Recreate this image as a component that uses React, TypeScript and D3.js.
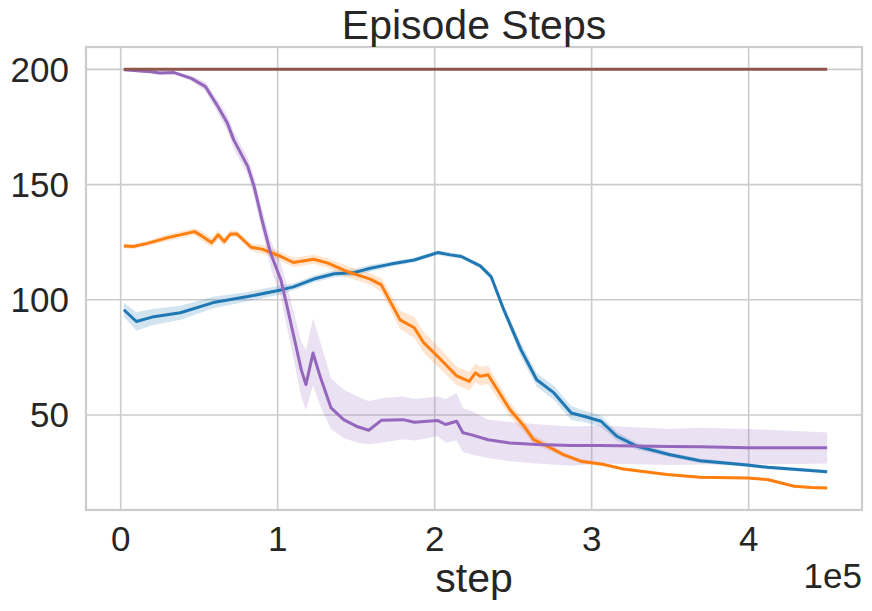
import * as d3 from 'd3'

// x values are env steps, y values are mean episode steps with a confidence band
const blueSteps = [2000, 10000, 20000, 38000, 59000, 81000, 102000, 110000, 123000, 136000, 148000, 159000, 172000, 187000, 202000, 210000, 217000, 229000, 236000, 244000, 255000, 265000, 276000, 287000, 295000, 306000, 316000, 329000, 350000, 369000, 399000, 412000, 450000]
const blueMean = [95.7, 90.6, 92.5, 94.4, 98.8, 101.4, 104.3, 105.6, 109, 111.3, 111.7, 113.7, 115.5, 117.3, 120.5, 119.5, 118.8, 114.7, 110, 95.7, 78.3, 65.3, 59.6, 50.9, 49.5, 47.3, 40.8, 36.4, 32.8, 30.2, 28.3, 27.3, 25.4]
const blueSpread = [3, 4, 3.5, 3, 2.5, 2, 2, 1.5, 1.5, 1.5, 1.5, 1.5, 1, 1, 1, 1, 1, 1, 1.5, 2, 3, 3, 3, 3, 2.5, 2.5, 2, 1.5, 1, 1, 0.8, 0.8, 0.8]

const orangeSteps = [2000, 8000, 17000, 30000, 47000, 51000, 58000, 62000, 66000, 70000, 74000, 83000, 90000, 102000, 110000, 123000, 132000, 144000, 159000, 166000, 178000, 187000, 193000, 204000, 214000, 222000, 226000, 229000, 234000, 240000, 248000, 257000, 263000, 274000, 282000, 293000, 308000, 320000, 348000, 369000, 399000, 412000, 429000, 440000, 450000]
const orangeMean = [123.4, 123.1, 124.5, 127, 129.6, 128, 124.8, 128.2, 125.3, 128.6, 128.6, 122.8, 122, 118.8, 116.2, 117.6, 115.9, 112.3, 109, 106.5, 91.3, 87.9, 81.4, 74, 67, 64.6, 68.3, 66.8, 67.5, 61, 52.3, 45.1, 39.3, 35.7, 32.8, 30, 28.5, 26.6, 24.2, 23, 22.7, 22, 19.1, 18.6, 18.4]
const orangeSpread = [1, 1, 1, 1.5, 1.5, 2, 2, 2, 2, 1.5, 1.5, 1.5, 2, 2, 2, 2, 2, 2.5, 2.5, 3, 4, 4.5, 4.5, 4.5, 4, 4, 4, 4, 4, 3.5, 3, 2.5, 2, 1.5, 1, 1, 0.8, 0.6, 0.5, 0.5, 0.5, 0.5, 0.5, 0.5, 0.5]

const purpleSteps = [2000, 19000, 25000, 34000, 45000, 54000, 62000, 68000, 72000, 81000, 85000, 90000, 95500, 102000, 106000, 115000, 118000, 122500, 127000, 134000, 142000, 151000, 158000, 166000, 180000, 187000, 202000, 207000, 214000, 218000, 223000, 234000, 248000, 265000, 287000, 306000, 350000, 369000, 399000, 450000]
const purpleMean = [199.8, 199, 198.4, 198.6, 196.1, 192.5, 183.8, 176.6, 169.4, 157.8, 149.1, 134.7, 120.2, 108.7, 97.1, 69.7, 63.2, 76.9, 66.8, 53.1, 48, 44.9, 43.4, 47.7, 48, 46.9, 47.6, 45.9, 47.3, 42.3, 41.5, 39.3, 37.9, 37.2, 36.8, 36.8, 36.4, 36.2, 35.8, 35.8]
const purpleUpper = [200.3, 199.6, 199.2, 199.3, 197.2, 194.5, 186.5, 180, 173, 161.5, 153.5, 139.5, 126, 116, 106, 82, 78, 92, 82, 66, 61, 58, 56, 57.3, 58, 57, 58, 57, 59.6, 53, 52, 48, 47, 46, 45, 45.5, 44, 44.5, 44, 42.4]
const purpleLower = [199.3, 198.4, 197.6, 197.9, 195, 190.5, 181, 173, 165.5, 154, 144.5, 130, 114, 101, 88, 58, 52, 63, 54, 44, 40, 38, 37.3, 38, 39.5, 39, 40.8, 38, 39, 34, 33, 31.4, 30, 29, 28, 29, 28.3, 28.5, 28.5, 29]

const brownSteps = [2000, 450000]
const brownMean = [200, 200]

const xTicks = [0, 100000, 200000, 300000, 400000]
const yTicks = [50, 100, 150, 200]

const TEXT = '#262626'
const GRID = '#cccccc'
const FONT = 'Liberation Sans, Arial, DejaVu Sans, sans-serif'

type Pt = {x: number; y: number; lo: number; hi: number}

function zip(steps: number[], mean: number[], lo: number[], hi: number[]): Pt[] {
  return steps.map((s, i) => ({x: s, y: mean[i], lo: lo[i], hi: hi[i]}))
}

export default function App() {
  const width = 872
  const height = 611
  const left = 86
  const right = 862
  const top = 47
  const bottom = 510

  const x = d3.scaleLinear().domain([-22100, 472200]).range([left, right])
  const y = d3.scaleLinear().domain([8.8, 209.7]).range([bottom, top])

  const line = d3.line<Pt>().x(d => x(d.x)).y(d => y(d.y))
  const band = d3.area<Pt>().x(d => x(d.x)).y0(d => y(d.lo)).y1(d => y(d.hi))

  const series = [
    {
      color: '#1f77b4',
      pts: zip(blueSteps, blueMean, blueMean.map((m, i) => m - blueSpread[i]), blueMean.map((m, i) => m + blueSpread[i])),
    },
    {
      color: '#ff7f0e',
      pts: zip(orangeSteps, orangeMean, orangeMean.map((m, i) => m - orangeSpread[i]), orangeMean.map((m, i) => m + orangeSpread[i])),
    },
    {color: '#9467bd', pts: zip(purpleSteps, purpleMean, purpleLower, purpleUpper)},
    {color: '#8c564b', pts: zip(brownSteps, brownMean, brownMean, brownMean)},
  ]

  return (
    <svg width={width} height={height} style={{display: 'block'}} fontFamily={FONT}>
      <style>{'body{margin:0}'}</style>
      <rect x={0} y={0} width={width} height={height} fill="#fff" />
      <g stroke={GRID} strokeWidth={1.6}>
        {xTicks.map(t => (
          <line key={'gx' + t} x1={x(t)} x2={x(t)} y1={top} y2={bottom} />
        ))}
        {yTicks.map(t => (
          <line key={'gy' + t} x1={left} x2={right} y1={y(t)} y2={y(t)} />
        ))}
      </g>
      <g>
        {series.map((s, i) => (
          <path key={'b' + i} d={band(s.pts) ?? undefined} fill={s.color} fillOpacity={0.2} stroke="none" />
        ))}
        {series.map((s, i) => (
          <path
            key={'l' + i}
            d={line(s.pts) ?? undefined}
            fill="none"
            stroke={s.color}
            strokeWidth={3}
            strokeLinejoin="round"
            strokeLinecap="butt"
          />
        ))}
      </g>
      <rect x={left} y={top} width={right - left} height={bottom - top} fill="none" stroke={GRID} strokeWidth={2.2} />
      <g fill={TEXT} fontSize={35}>
        {yTicks.map(t => (
          <text key={'ty' + t} x={69} y={y(t)} dy={12.3} textAnchor="end">
            {t}
          </text>
        ))}
        {xTicks.map(t => (
          <text key={'tx' + t} x={x(t)} y={551} textAnchor="middle">
            {t / 1e5}
          </text>
        ))}
      </g>
      <text x={right} y={588} textAnchor="end" fontSize={35} fill={TEXT}>
        1e5
      </text>
      <text x={(left + right) / 2} y={592} textAnchor="middle" fontSize={41} fill={TEXT}>
        step
      </text>
      <text x={(left + right) / 2} y={39} textAnchor="middle" fontSize={41} fill={TEXT}>
        Episode Steps
      </text>
    </svg>
  )
}
